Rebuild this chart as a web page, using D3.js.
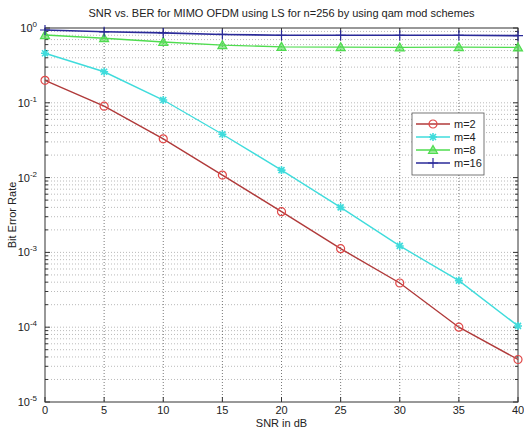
<!DOCTYPE html>
<html>
<head>
<meta charset="utf-8">
<script src="https://cdn.jsdelivr.net/npm/d3@7"></script>
<style>
body { margin: 0; background: #fff; }
svg { font-family: "Liberation Sans", Arial, sans-serif; }
.grid line { stroke: #a8a8a8; stroke-dasharray: 1,2; stroke-width: 0.8; }
</style>
</head>
<body>
<svg id="chart"></svg>
<script>
var width = 524;
var height = 429;
var margin = { top: 28, right: 6, bottom: 27, left: 45 };

var snr = [0, 5, 10, 15, 20, 25, 30, 35, 40];
var berM2 = [0.2, 0.09, 0.033, 0.0108, 0.0035, 0.00112, 0.00039, 0.0001, 0.000037];
var berM4 = [0.46, 0.26, 0.109, 0.038, 0.0126, 0.004, 0.00122, 0.00042, 0.000104];
var berM8 = [0.805, 0.73, 0.65, 0.59, 0.56, 0.555, 0.55, 0.555, 0.55];
var berM16 = [0.94, 0.89, 0.86, 0.82, 0.8, 0.8, 0.8, 0.8, 0.79];
var seriesNames = ['m=2', 'm=4', 'm=8', 'm=16'];
var xTicks = [0, 5, 10, 15, 20, 25, 30, 35, 40];
var yDecades = [0, -1, -2, -3, -4, -5];

var series = [
  { name: seriesNames[0], values: berM2, color: '#b03a3a', markColor: '#e04848', marker: 'circle' },
  { name: seriesNames[1], values: berM4, color: '#3fdcdc', markColor: '#3fdcdc', marker: 'star' },
  { name: seriesNames[2], values: berM8, color: '#4fdc4f', markColor: '#4fdc4f', marker: 'triangle' },
  { name: seriesNames[3], values: berM16, color: '#2a2a99', markColor: '#2a2a99', marker: 'plus' }
];

var svg = d3.select('#chart').attr('width', width).attr('height', height);
var iw = width - margin.left - margin.right;
var ih = height - margin.top - margin.bottom;
var g = svg.append('g').attr('transform', 'translate(' + margin.left + ',' + margin.top + ')');

var x = d3.scaleLinear().domain([0, 40]).range([0, iw]);
var y = d3.scaleLog().domain([1e-5, 1]).range([ih, 0]);

// minor values on the log scale
var minorVals = [];
yDecades.slice(1).forEach(function(p) {
  for (var k = 2; k <= 9; k++) minorVals.push(k * Math.pow(10, p));
});
var majorVals = yDecades.map(function(p) { return Math.pow(10, p); });

// grid
var grid = g.append('g').attr('class', 'grid');
grid.selectAll('.gy').data(minorVals.concat(majorVals.slice(1, -1))).enter().append('line')
  .attr('x1', 0).attr('x2', iw)
  .attr('y1', function(d) { return y(d); }).attr('y2', function(d) { return y(d); });
grid.selectAll('.gx').data(xTicks.slice(1, -1)).enter().append('line')
  .attr('y1', 0).attr('y2', ih)
  .attr('x1', function(d) { return x(d); }).attr('x2', function(d) { return x(d); })
  .style('stroke', '#555');

// box
g.append('rect').attr('width', iw).attr('height', ih)
  .attr('fill', 'none').attr('stroke', '#333').attr('stroke-width', 1);

// tick marks (inward, both sides)
var tk = g.append('g').attr('stroke', '#333').attr('stroke-width', 1);
xTicks.forEach(function(d) {
  tk.append('line').attr('x1', x(d)).attr('x2', x(d)).attr('y1', ih).attr('y2', ih - 5);
  tk.append('line').attr('x1', x(d)).attr('x2', x(d)).attr('y1', 0).attr('y2', 5);
});
majorVals.forEach(function(d) {
  tk.append('line').attr('x1', 0).attr('x2', 5).attr('y1', y(d)).attr('y2', y(d));
  tk.append('line').attr('x1', iw).attr('x2', iw - 5).attr('y1', y(d)).attr('y2', y(d));
});
minorVals.forEach(function(d) {
  tk.append('line').attr('x1', 0).attr('x2', 3).attr('y1', y(d)).attr('y2', y(d));
  tk.append('line').attr('x1', iw).attr('x2', iw - 3).attr('y1', y(d)).attr('y2', y(d));
});

// x tick labels
g.selectAll('.xl').data(xTicks).enter().append('text')
  .attr('x', function(d) { return x(d); }).attr('y', ih + 12)
  .attr('text-anchor', 'middle').attr('font-size', 11).attr('fill', '#222')
  .text(function(d) { return d; });

// y tick labels with superscript exponents
yDecades.forEach(function(p) {
  var t = g.append('text').attr('x', -8).attr('y', y(Math.pow(10, p)) + 4)
    .attr('text-anchor', 'end').attr('font-size', 11).attr('fill', '#222');
  t.append('tspan').text('10');
  t.append('tspan').attr('dy', -5).attr('font-size', 8).text(p);
});

// lines and markers
var line = d3.line()
  .x(function(d, i) { return x(snr[i]); })
  .y(function(d) { return y(d); });

function drawMarker(sel, type, color) {
  if (type === 'circle') {
    sel.append('circle').attr('r', 4).attr('fill', 'none').attr('stroke', color).attr('stroke-width', 1.2);
  } else if (type === 'star') {
    sel.append('path').attr('d', 'M-4,0H4M0,-4V4M-3,-3L3,3M-3,3L3,-3')
      .attr('stroke', color).attr('stroke-width', 1.6);
  } else if (type === 'triangle') {
    sel.append('path').attr('d', 'M0,-4.5L4.5,3.5H-4.5Z')
      .attr('fill', color).attr('fill-opacity', 0.6).attr('stroke', color).attr('stroke-width', 1.2);
  } else if (type === 'plus') {
    sel.append('path').attr('d', 'M-5,0H5M0,-5V5').attr('stroke', color).attr('stroke-width', 1.2);
  }
}

series.forEach(function(s) {
  g.append('path').datum(s.values).attr('d', line)
    .attr('fill', 'none').attr('stroke', s.color).attr('stroke-width', s.marker === 'plus' ? 1.6 : 1.4);
  s.values.forEach(function(v, i) {
    var m = g.append('g').attr('transform', 'translate(' + x(snr[i]) + ',' + y(v) + ')');
    drawMarker(m, s.marker, s.markColor);
  });
});

// legend
var lg = svg.append('g').attr('transform', 'translate(412,113)');
lg.append('rect').attr('width', 72).attr('height', 62)
  .attr('fill', '#fff').attr('stroke', '#555').attr('stroke-width', 0.8);
series.forEach(function(s, i) {
  var row = lg.append('g').attr('transform', 'translate(0,' + (11 + i * 13) + ')');
  row.append('line').attr('x1', 4).attr('x2', 38).attr('stroke', s.color).attr('stroke-width', 1.4);
  var m = row.append('g').attr('transform', 'translate(21,0)');
  drawMarker(m, s.marker, s.markColor);
  row.append('text').attr('x', 42).attr('y', 4).attr('font-size', 11).attr('fill', '#222').text(s.name);
});

// title and axis labels
svg.append('text').attr('x', margin.left + iw / 2).attr('y', 17)
  .attr('text-anchor', 'middle').attr('font-size', 11).attr('fill', '#222')
  .text('SNR vs. BER for MIMO OFDM using LS for n=256 by using qam mod schemes');
svg.append('text').attr('x', margin.left + iw / 2).attr('y', 427)
  .attr('text-anchor', 'middle').attr('font-size', 11).attr('fill', '#222')
  .text('SNR in dB');
svg.append('text').attr('transform', 'translate(16,' + (margin.top + ih / 2) + ') rotate(-90)')
  .attr('text-anchor', 'middle').attr('font-size', 11).attr('fill', '#222')
  .text('Bit Error Rate');
</script>
</body>
</html>
